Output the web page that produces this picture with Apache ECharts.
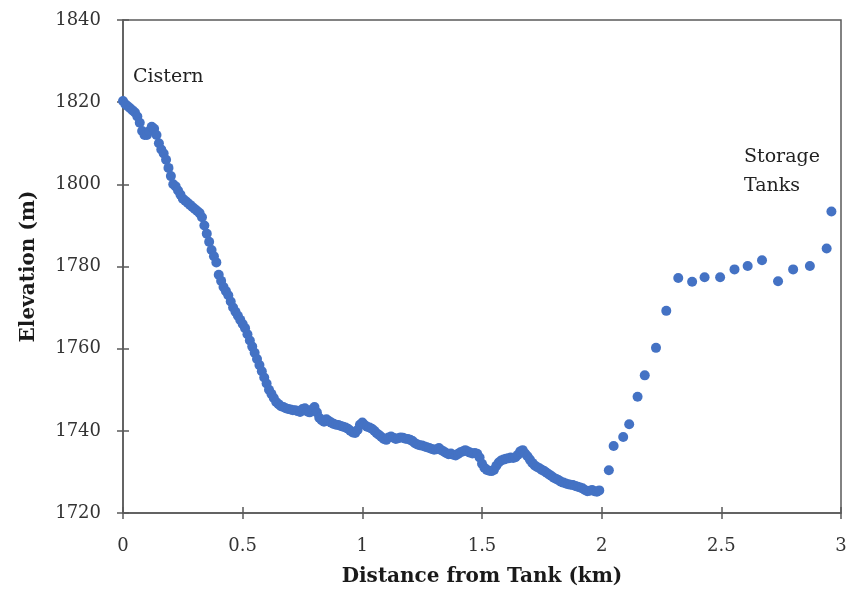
<!DOCTYPE html>
<html>
<head>
<meta charset="utf-8">
<script src="https://cdn.jsdelivr.net/npm/echarts@6/dist/echarts.min.js"></script>
<style>
  html, body { margin: 0; padding: 0; background: #fff; }
  #chart { width: 846px; height: 589px; }
</style>
</head>
<body>
<div id="chart"></div>
<script>
  // pipeline profile: distance (km) vs elevation (m)
  var denseDistance = [
    0.00, 0.01, 0.02, 0.03, 0.04, 0.05, 0.06, 0.07, 0.08, 0.09,
    0.10, 0.11, 0.12, 0.13, 0.14, 0.15, 0.16, 0.17, 0.18, 0.19,
    0.20, 0.21, 0.22, 0.23, 0.24, 0.25, 0.26, 0.27, 0.28, 0.29,
    0.30, 0.31, 0.32, 0.33, 0.34, 0.35, 0.36, 0.37, 0.38, 0.39,
    0.40, 0.41, 0.42, 0.43, 0.44, 0.45, 0.46, 0.47, 0.48, 0.49,
    0.50, 0.51, 0.52, 0.53, 0.54, 0.55, 0.56, 0.57, 0.58, 0.59,
    0.60, 0.61, 0.62, 0.63, 0.64, 0.65, 0.66, 0.67, 0.68, 0.69,
    0.70, 0.71, 0.72, 0.73, 0.74, 0.75, 0.76, 0.77, 0.78, 0.79,
    0.80, 0.81, 0.82, 0.83, 0.84, 0.85, 0.86, 0.87, 0.88, 0.89,
    0.90, 0.91, 0.92, 0.93, 0.94, 0.95, 0.96, 0.97, 0.98, 0.99,
    1.00, 1.01, 1.02, 1.03, 1.04, 1.05, 1.06, 1.07, 1.08, 1.09,
    1.10, 1.11, 1.12, 1.13, 1.14, 1.15, 1.16, 1.17, 1.18, 1.19,
    1.20, 1.21, 1.22, 1.23, 1.24, 1.25, 1.26, 1.27, 1.28, 1.29,
    1.30, 1.31, 1.32, 1.33, 1.34, 1.35, 1.36, 1.37, 1.38, 1.39,
    1.40, 1.41, 1.42, 1.43, 1.44, 1.45, 1.46, 1.47, 1.48, 1.49,
    1.50, 1.51, 1.52, 1.53, 1.54, 1.55, 1.56, 1.57, 1.58, 1.59,
    1.60, 1.61, 1.62, 1.63, 1.64, 1.65, 1.66, 1.67, 1.68, 1.69,
    1.70, 1.71, 1.72, 1.73, 1.74, 1.75, 1.76, 1.77, 1.78, 1.79,
    1.80, 1.81, 1.82, 1.83, 1.84, 1.85, 1.86, 1.87, 1.88, 1.89,
    1.90, 1.91, 1.92, 1.93, 1.94, 1.95, 1.96, 1.97, 1.98, 1.99
  ];
  var denseElevation = [
    1820.3, 1819.5, 1819.0, 1818.5, 1818.0, 1817.5, 1816.5, 1815.0, 1813.0, 1812.0,
    1812.0, 1813.0, 1814.0, 1813.5, 1812.0, 1810.0, 1808.5, 1807.5, 1806.0, 1804.0,
    1802.0, 1800.0, 1799.5, 1798.5, 1797.5, 1796.5, 1796.0, 1795.5, 1795.0, 1794.5,
    1794.0, 1793.5, 1793.0, 1792.0, 1790.0, 1788.0, 1786.0, 1784.0, 1782.5, 1781.0,
    1778.0, 1776.5, 1775.0, 1774.0, 1773.0, 1771.5, 1770.0, 1769.0, 1768.0, 1767.0,
    1766.0, 1765.0, 1763.5, 1762.0, 1760.5, 1759.0, 1757.5, 1756.0, 1754.5, 1753.0,
    1751.5, 1750.0, 1749.0, 1748.0, 1747.0, 1746.5, 1746.0, 1745.8, 1745.5, 1745.3,
    1745.2, 1745.0, 1745.0, 1744.8, 1744.6, 1745.3, 1745.5, 1744.7, 1744.5, 1745.2,
    1745.8, 1744.5, 1743.2, 1742.6, 1742.2, 1742.8, 1742.4, 1742.0, 1741.7, 1741.5,
    1741.4, 1741.2, 1741.0, 1740.8, 1740.5, 1740.0, 1739.6, 1739.5, 1740.2, 1741.5,
    1742.0, 1741.4, 1741.0, 1740.8, 1740.5, 1740.0, 1739.4, 1739.0, 1738.5, 1738.0,
    1737.8, 1738.4, 1738.6, 1738.3, 1738.0, 1738.2, 1738.4, 1738.3, 1738.1, 1738.0,
    1737.8, 1737.5, 1737.0, 1736.7, 1736.5, 1736.4, 1736.2, 1736.0, 1735.8, 1735.6,
    1735.4, 1735.5, 1735.8, 1735.3, 1735.0, 1734.6, 1734.3, 1734.5, 1734.2, 1734.0,
    1734.4, 1734.8, 1735.0, 1735.3, 1735.0, 1734.7, 1734.5, 1734.6, 1734.4, 1733.5,
    1732.0, 1731.0, 1730.5, 1730.3, 1730.2, 1730.5, 1731.5, 1732.3, 1732.8, 1733.0,
    1733.2, 1733.3, 1733.5, 1733.4, 1733.6, 1734.2, 1735.0, 1735.3, 1734.5, 1733.8,
    1733.0, 1732.2, 1731.6, 1731.2, 1730.9, 1730.5, 1730.2, 1729.8, 1729.4, 1729.0,
    1728.6, 1728.3, 1728.0, 1727.6, 1727.4, 1727.2, 1727.0, 1726.9, 1726.8, 1726.6,
    1726.4, 1726.2, 1726.0, 1725.6, 1725.3, 1725.4, 1725.6, 1725.3, 1725.2, 1725.5
  ];
  var sparseDistance = [
    2.03, 2.05, 2.09, 2.115, 2.15, 2.18, 2.227, 2.27, 2.32, 2.378,
    2.43, 2.495, 2.555, 2.61, 2.67, 2.737, 2.80, 2.87, 2.94, 2.96
  ];
  var sparseElevation = [
    1730.4, 1736.3, 1738.5, 1741.6, 1748.3, 1753.5, 1760.2, 1769.2, 1777.2, 1776.3,
    1777.4, 1777.4, 1779.3, 1780.1, 1781.5, 1776.4, 1779.3, 1780.1, 1784.4, 1793.4
  ];

  var distance = denseDistance.concat(sparseDistance);
  var elevation = denseElevation.concat(sparseElevation);
  var points = distance.map(function (d, i) { return [d, elevation[i]]; });

  var axisColor = '#5a5a5a';
  var labelFont = 'DejaVu Serif';

  var chart = echarts.init(document.getElementById('chart'));
  chart.setOption({
    animation: false,
    backgroundColor: '#fff',
    grid: {
      left: 123,
      right: 5,
      top: 20,
      bottom: 76,
      outerBoundsMode: 'none',
      show: true,
      borderColor: axisColor,
      borderWidth: 1.5
    },
    xAxis: [{
      type: 'value',
      min: 0,
      max: 3,
      interval: 0.5,
      name: 'Distance from Tank (km)',
      nameLocation: 'middle',
      nameGap: 54,
      nameTextStyle: {
        fontFamily: labelFont,
        fontWeight: 'bold',
        fontSize: 20,
        color: '#1a1a1a'
      },
      axisLine: { show: true, lineStyle: { color: axisColor, width: 1.5 } },
      axisTick: { show: true, length: 6, lineStyle: { color: axisColor, width: 1.5 } },
      axisLabel: {
        margin: 24,
        fontFamily: labelFont,
        fontSize: 18,
        color: '#333',
        formatter: function (v) { return String(v); }
      },
      splitLine: { show: false }
    }, {
      type: 'value',
      position: 'bottom',
      min: 0,
      max: 3,
      interval: 0.5,
      axisLine: { show: false },
      axisTick: { show: true, inside: true, length: 6, lineStyle: { color: axisColor, width: 1.5 } },
      axisLabel: { show: false },
      splitLine: { show: false }
    }],
    yAxis: [{
      type: 'value',
      min: 1720,
      max: 1840,
      interval: 20,
      name: 'Elevation (m)',
      nameLocation: 'middle',
      nameGap: 84,
      nameTextStyle: {
        fontFamily: labelFont,
        fontWeight: 'bold',
        fontSize: 20,
        color: '#1a1a1a'
      },
      axisLine: { show: true, lineStyle: { color: axisColor, width: 1.5 } },
      axisTick: { show: true, length: 6, lineStyle: { color: axisColor, width: 1.5 } },
      axisLabel: {
        margin: 22,
        fontFamily: labelFont,
        fontSize: 18,
        color: '#333',
        formatter: function (v) { return String(v); }
      },
      splitLine: { show: false }
    }, {
      type: 'value',
      position: 'left',
      min: 1720,
      max: 1840,
      interval: 20,
      axisLine: { show: false },
      axisTick: { show: true, inside: true, length: 6, lineStyle: { color: axisColor, width: 1.5 } },
      axisLabel: { show: false },
      splitLine: { show: false }
    }],
    graphic: [{
      type: 'text',
      left: 133,
      top: 68,
      style: { text: 'Cistern', font: '19px "DejaVu Serif"', fill: '#222' }
    }, {
      type: 'text',
      left: 744,
      top: 143,
      style: { text: 'Storage\nTanks', font: '19px "DejaVu Serif"', fill: '#222', lineHeight: 29 }
    }],
    series: [{
      type: 'scatter',
      xAxisIndex: 0,
      yAxisIndex: 0,
      symbol: 'circle',
      symbolSize: 10,
      itemStyle: { color: '#4472c4', opacity: 1 },
      data: points
    }]
  });
</script>
</body>
</html>
